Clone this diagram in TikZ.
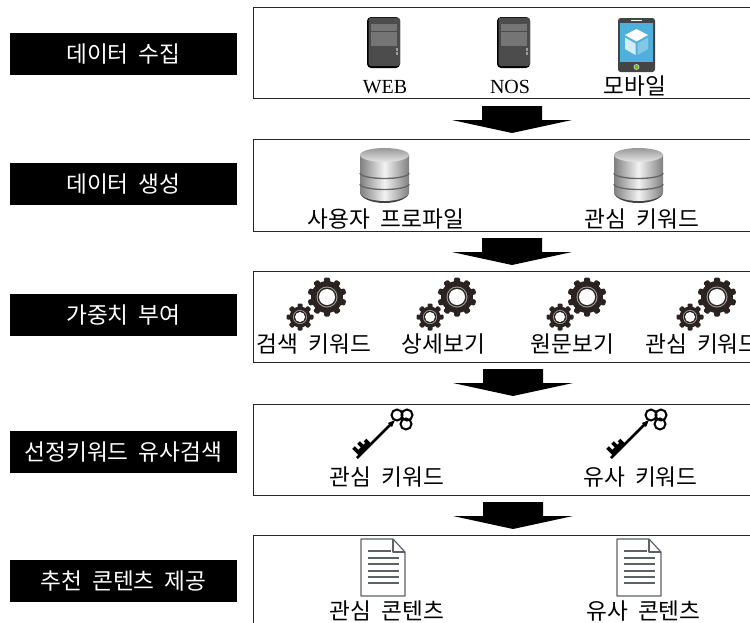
\documentclass[tikz,border=0pt]{standalone}
\usepackage{fontspec}
\setmainfont{Liberation Serif}
\newfontfamily\krfont[WordSpace=2]{Noto Sans CJK KR}
\usetikzlibrary{calc, positioning}

\definecolor{serverbody}{HTML}{4C4C4C}
\definecolor{serverslot}{HTML}{757575}
\definecolor{phonebody}{HTML}{444444}
\definecolor{phonescreen}{HTML}{4FB1DB}
\definecolor{geardark}{HTML}{2B2321}
\definecolor{docline}{HTML}{5D6269}

\tikzset{
  stagebox/.style={fill=black, text=white, minimum width=170.25pt, minimum height=31.5pt, inner sep=0pt, font=\krfont\fontsize{17}{18}\selectfont},
  panelbox/.style={draw=black!85, line width=0.8pt, fill=white, minimum width=600pt, minimum height=#1, inner sep=0pt},
  itemtext/.style={inner sep=0pt, font=\krfont\fontsize{17}{18}\selectfont},
  latintext/.style={inner sep=0pt, font=\fontsize{15}{18}\selectfont},
  pics/flowarrow/.style={code={
    \fill[black] (-30,0) -- (30,0) -- (30,14) -- (60,14) -- (0,27) -- (-60,14) -- (-30,14) -- cycle;
  }},
  pics/serverpic/.style={code={
    \fill[black, rounded corners=3pt] (0,0) rectangle (33,51);
    \fill[serverbody, rounded corners=2pt] (1.5,0.5) rectangle (33,49);
    \foreach \y in {7,15,22} {
      \fill[serverslot] (4,\y) rectangle (30,\y+6.5);
    }
    \fill[serverslot!70] (29,31) rectangle (31,33.5);
    \fill[serverslot!70] (29,35) rectangle (31,37.5);
  }},
  pics/phonepic/.style={code={
    \fill[phonebody, rounded corners=2pt] (0,0) rectangle (37,54);
    \fill[phonescreen] (2,5) rectangle (35,44);
    \fill[white] (13,1.7) rectangle (24,3);
    % Cube
    \fill[white] (18.5,11) -- (30,17) -- (18.5,23.5) -- (7,17) -- cycle;
    \fill[white!75!phonescreen] (7,19.5) -- (17.5,25.5) -- (17.5,37) -- (7,31) -- cycle;
    \fill[white!30!phonescreen] (30,19.5) -- (19.5,25.5) -- (19.5,37) -- (30,31) -- cycle;
    \fill[black!25] (18.5,49) circle (3);
    \fill[green!60!yellow!80!black] (18.5,49) circle (2);
  }},
  pics/dbpic/.style={code={
    % Base shadow
    \fill[black!75] (0,44) arc (180:0:24.5 and 11) -- cycle;
    \shade[left color=black!50, right color=black!50, middle color=black!5] (0,7) -- (0,44) arc (180:0:24.5 and 9) -- (49,7) -- cycle;
    \shade[top color=black!40, bottom color=black!10] (24.5,7) ellipse (24.5 and 7);
    \draw[black!60, line width=1pt] (0,25) arc (180:0:24.5 and 5.5);
    \draw[black!60, line width=1pt] (0,36) arc (180:0:24.5 and 5.5);
  }},
  pics/gearpic/.style={code={
    % Big wheel
    \fill[geardark] (26,20) circle (16);
    \foreach \a in {0,36,...,324} {
      \fill[geardark, rounded corners=1pt, rotate around={\a:(26,20)}] (23,0.5) rectangle (29,8);
    }
    \fill[black!35] (26,20) circle (10.5);
    \fill[geardark] (26,20) circle (9.5);
    \fill[white] (26,20) circle (8);
    % Small wheel
    \fill[geardark] (-1,40) circle (10.5);
    \foreach \a in {0,45,...,315} {
      \fill[geardark, rounded corners=0.8pt, rotate around={\a:(-1,40)}] (-3.5,26.5) rectangle (1.5,33);
    }
    \fill[black!35] (-1,40) circle (7);
    \fill[geardark] (-1,40) circle (6.2);
    \fill[white] (-1,40) circle (5);
  }},
  pics/keypic/.style={code={
    \draw[black, line width=1.9pt] (2,41) -- (37,6);
    \draw[black, line width=1.5pt] (42,-2) circle (5.5) (52,-2) circle (5.5) (51,7) circle (5.5);
    \fill[black] (33,6) -- (40,3) -- (37,10) -- cycle;
    % Bit
    \draw[black, line width=2.8pt] (5.5,37.5) -- (-1.5,30.5);
    \draw[black, line width=2.8pt] (10.5,32.5) -- (3.5,25.5);
    \draw[black, line width=2.8pt] (15,28) -- (10,23);
    \draw[black, line width=4pt] (4,36) -- (14,26);
  }},
  pics/docpic/.style={code={
    \draw[docline, line width=0.9pt, fill=white, line join=round] (0,0) -- (32,0) -- (44,13) -- (44,57) -- (0,57) -- cycle;
    \draw[docline, line width=0.9pt, line join=round] (32,0) -- (32,13) -- (44,13);
    \draw[docline, line width=0.8pt] (7,12) -- (30,12);
    \foreach \y in {19,25,32,38,44} {
      \draw[docline, line width=0.8pt] (7,\y) -- (38,\y);
    }
  }},
}

\begin{document}
\begin{tikzpicture}[x=0.75pt, y=-0.75pt]
  \clip (0,0) rectangle (750,622);
  \fill[white] (0,0) rectangle (750,622);
  % Stage boxes
  \node[stagebox] (collect) at (123.5,54) {데이터 수집};
  \node[stagebox] (generate) at (123.5,184) {데이터 생성};
  \node[stagebox] (weight) at (123.5,315) {가중치 부여};
  \node[stagebox] (search) at (123.5,452) {선정키워드 유사검색};
  \node[stagebox] (provide) at (123.5,581) {추천 콘텐츠 제공};
  % Panels
  \node[panelbox=68.5pt, anchor=north west] (collectpanel) at (253,7) {};
  \node[panelbox=69pt, anchor=north west] (generatepanel) at (253,139) {};
  \node[panelbox=68.5pt, anchor=north west] (weightpanel) at (253,271) {};
  \node[panelbox=68.5pt, anchor=north west] (searchpanel) at (253,403.5) {};
  \node[panelbox=90pt, anchor=north west] (providepanel) at (253,535) {};
  % Arrows
  \pic at (512,106) {flowarrow};
  \pic at (512,238) {flowarrow};
  \pic at (513,369) {flowarrow};
  \pic at (513,502) {flowarrow};
  % Data collection
  \pic at (367,17) {serverpic};
  \pic at (497,17) {serverpic};
  \pic at (618,18) {phonepic};
  \node[latintext] (web) at (385,87) {WEB};
  \node[latintext] (nos) at (510,87) {NOS};
  \node[itemtext] (mobile) at (635,86) {모바일};
  % Data generation
  \pic at (360,148) {dbpic};
  \pic at (614,148) {dbpic};
  \node[itemtext] (profile) at (386,219) {사용자 프로파일};
  \node[itemtext] (interest) at (642,219) {관심 키워드};
  % Weighting
  \foreach \x in {301,431,561,691} {
    \pic at (\x,277) {gearpic};
  }
  \node[itemtext] (searchword) at (314,344) {검색 키워드};
  \node[itemtext] (detail) at (443.5,344) {상세보기};
  \node[itemtext] (original) at (572.5,344) {원문보기};
  \node[itemtext] (interestword) at (702.5,344) {관심 키워드};
  % Keyword search
  \pic at (355,417) {keypic};
  \pic at (609,417) {keypic};
  \node[itemtext] (interestkey) at (387,477) {관심 키워드};
  \node[itemtext] (similarkey) at (640.5,477) {유사 키워드};
  % Content
  \pic at (361,539) {docpic};
  \pic at (617,539) {docpic};
  \node[itemtext] (interestdoc) at (387,611) {관심 콘텐츠};
  \node[itemtext] (similardoc) at (643.5,611) {유사 콘텐츠};
\end{tikzpicture}
\end{document}
